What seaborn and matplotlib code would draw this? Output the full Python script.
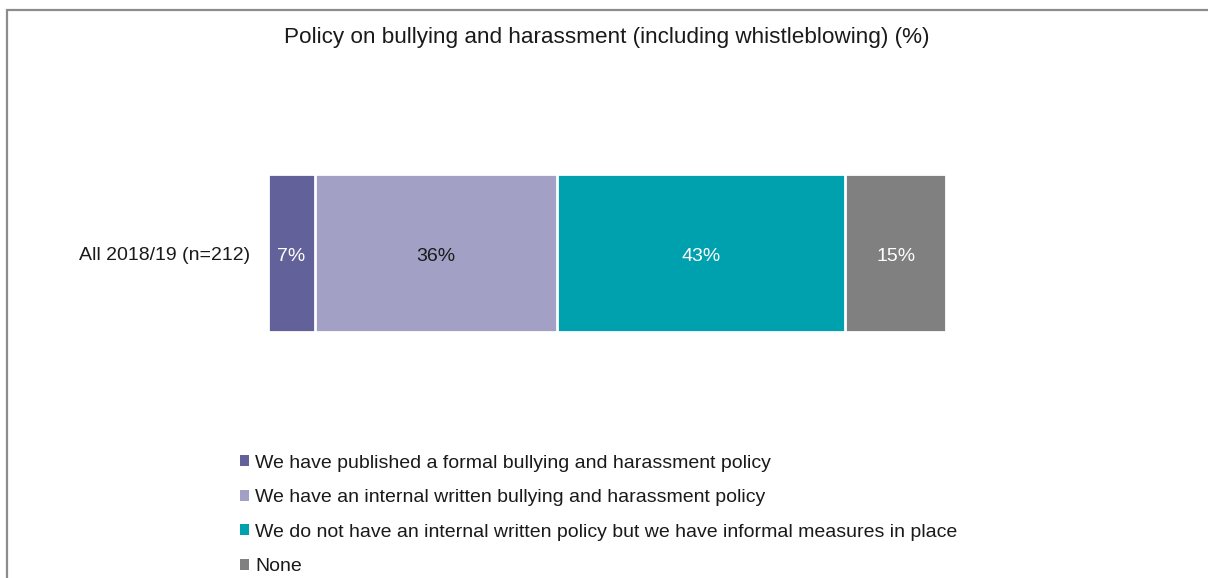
import matplotlib
matplotlib.use("Agg")
import matplotlib.pyplot as plt
from matplotlib.patches import Rectangle, Patch
import seaborn as sns
import pandas as pd
import numpy as np

sns.set_theme(style="white")
plt.rcParams["font.family"] = ["Liberation Sans", "DejaVu Sans"]

# Survey data
group_label = "All 2018/19 (n=212)"
categories = [
    "We have published a formal bullying and harassment policy",
    "We have an internal written bullying and harassment policy",
    "We do not have an internal written policy but we have informal measures in place",
    "None",
]
values = [7, 36, 43, 15]
colors = ["#636199", "#A2A0C4", "#00A1AF", "#808080"]
label_colors = ["#FFFFFF", "#1A1A1A", "#FFFFFF", "#FFFFFF"]

W, H = 1208, 578
fig = plt.figure(figsize=(W / 100, H / 100), dpi=100)
fig.patch.set_facecolor("white")

# Outer frame (open on right and bottom edges)
fig.add_artist(Rectangle((6.5 / W, -0.1), 1.2, 1 - 9.5 / H + 0.1,
                         transform=fig.transFigure, fill=False,
                         edgecolor="#8C8C8C", linewidth=1.6))

ax = fig.add_axes([268 / W, 1 - 332 / H, 678 / W, 158 / H])

cum = np.cumsum(values)
# Draw cumulative bars from longest to shortest so each segment shows
for i in range(len(values) - 1, -1, -1):
    df = pd.DataFrame({"group": [group_label], "value": [cum[i]]})
    sns.barplot(data=df, x="value", y="group", orient="h", ax=ax,
                color=colors[i], saturation=1, width=1.0,
                edgecolor="white", linewidth=2.0)

starts = np.concatenate([[0], cum[:-1]])
for v, s, c in zip(values, starts, label_colors):
    ax.text(s + v / 2, 0.02, f"{v}%", ha="center", va="center",
            fontsize=14, color=c)

ax.set_xlim(0, sum(values))
ax.set_ylim(0.5, -0.5)
ax.set_xlabel("")
ax.set_ylabel("")
ax.set_xticks([])
ax.tick_params(axis="y", length=0, pad=13, labelsize=14, labelcolor="#1A1A1A")
for sp in ax.spines.values():
    sp.set_visible(False)

fig.text(607 / W, 1 - 37 / H, "Policy on bullying and harassment (including whistleblowing) (%)",
         ha="center", va="center", fontsize=16.2, color="#1A1A1A")

handles = [Patch(facecolor=c, edgecolor="none") for c in colors]
fig.legend(handles, categories, loc="upper left",
           bbox_to_anchor=(230 / W, 1 - 445 / H), frameon=False,
           fontsize=14, handlelength=0.5, handleheight=0.5,
           handletextpad=0.3, labelspacing=0.9, borderpad=0,
           labelcolor="#1A1A1A")

fig.savefig("out.png", dpi=100, facecolor="white")
